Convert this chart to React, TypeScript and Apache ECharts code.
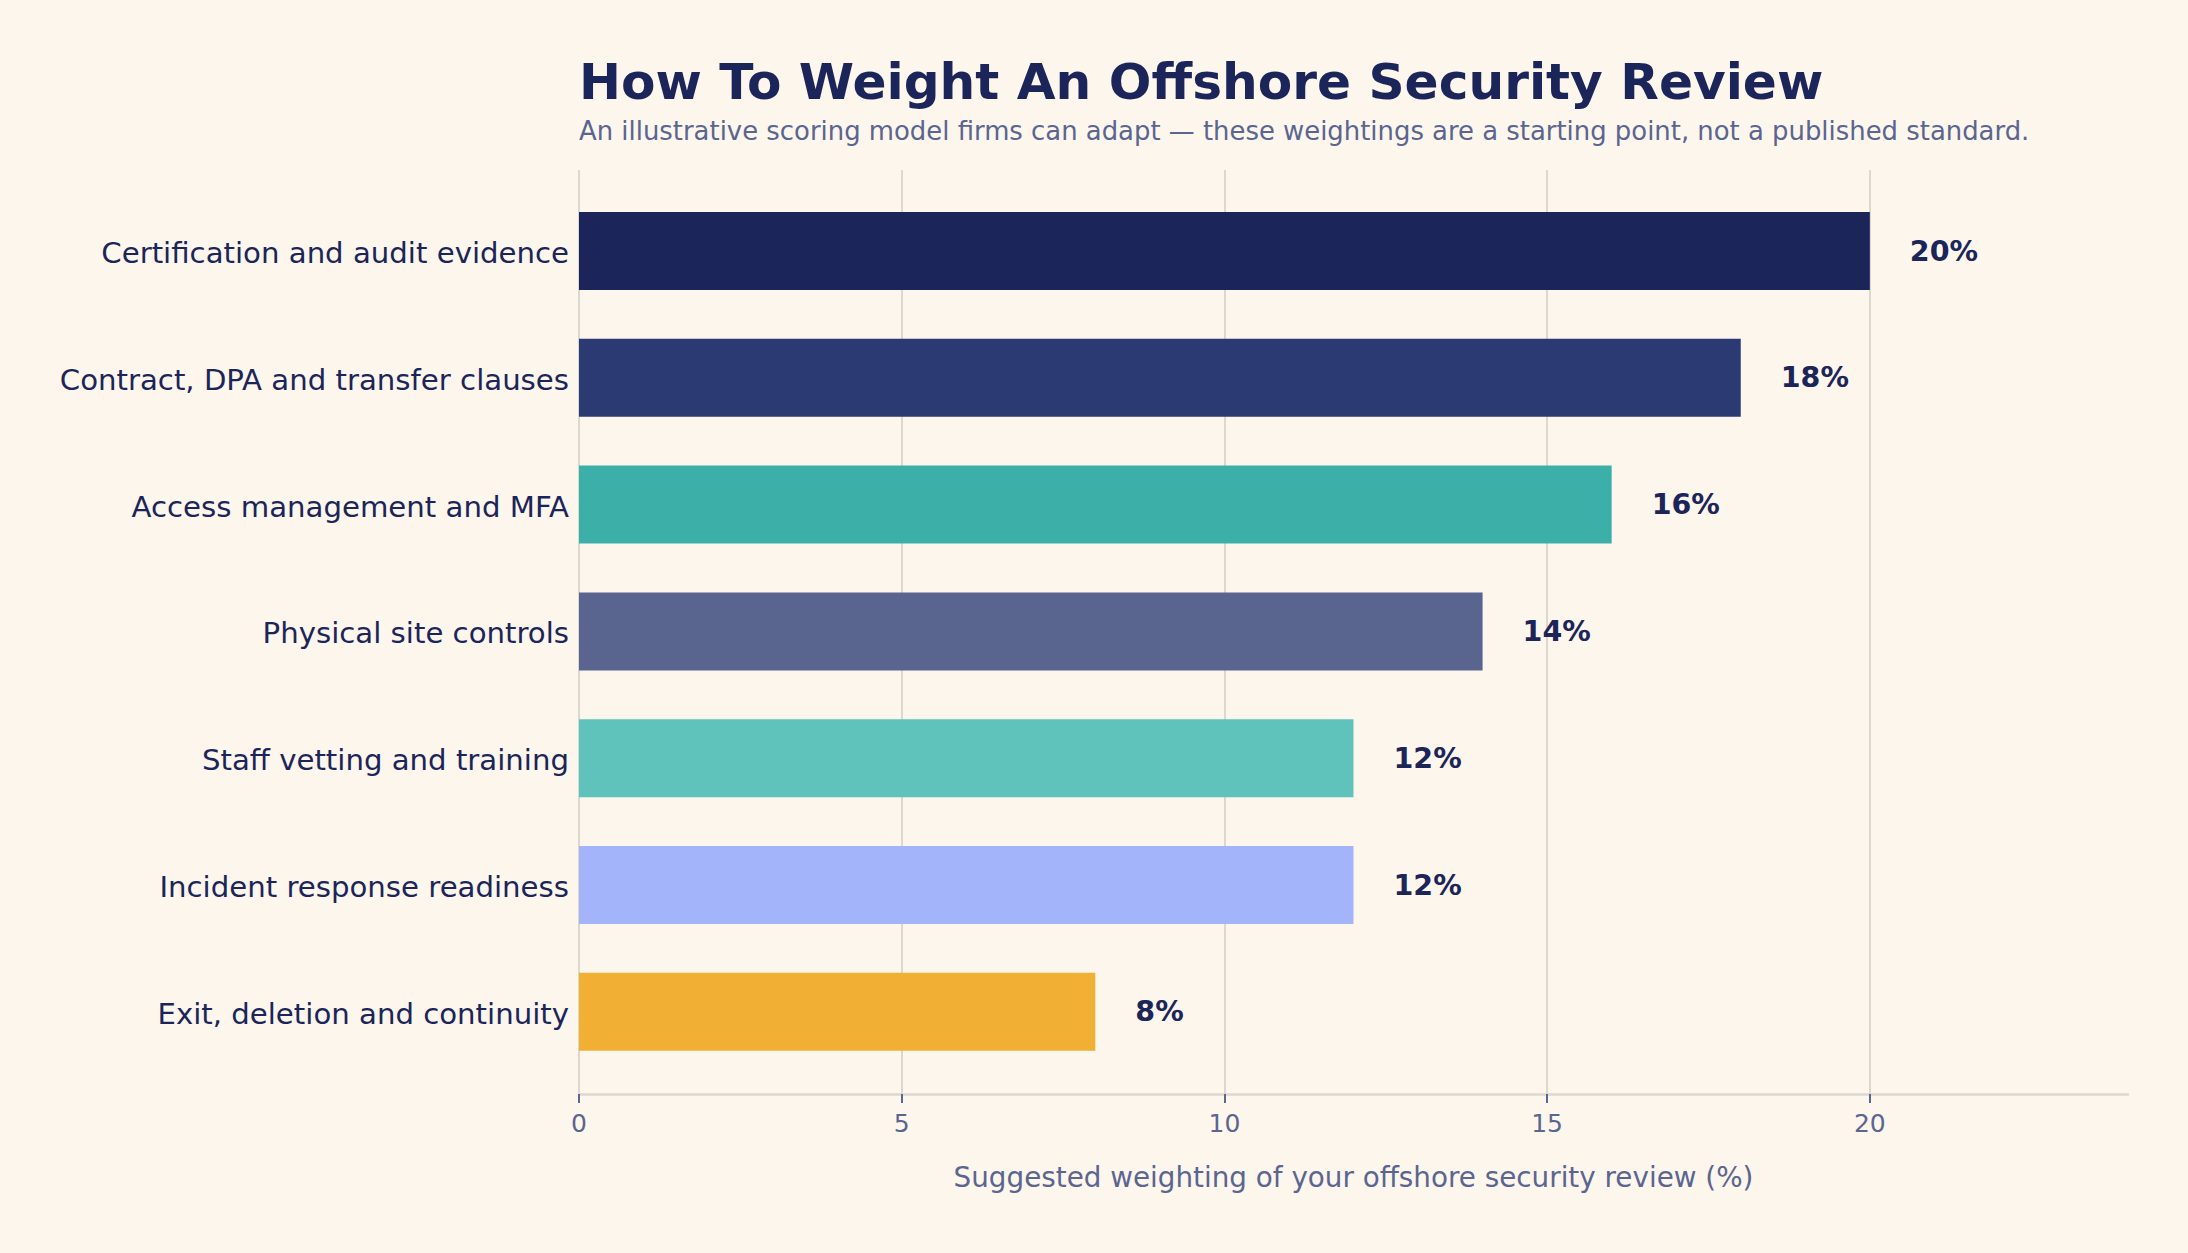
import { useEffect, useRef } from 'react';
import * as echarts from 'echarts';

const categories = [
  'Certification and audit evidence',
  'Contract, DPA and transfer clauses',
  'Access management and MFA',
  'Physical site controls',
  'Staff vetting and training',
  'Incident response readiness',
  'Exit, deletion and continuity',
];
const weights = [20, 18, 16, 14, 12, 12, 8];
const barColors = ['#1b2559', '#2b3a73', '#3cafa9', '#5a658f', '#5fc3bc', '#a3b4fa', '#f1b033'];
const tickValues = [0, 5, 10, 15, 20];

const NAVY = '#1b2559';
const SLATE = '#5a6590';
const GRID = '#dcd8ce';
const FONT = '"DejaVu Sans", sans-serif';

export default function App() {
  const chartRef = useRef<HTMLDivElement>(null);

  useEffect(() => {
    if (!chartRef.current) return;
    const chart = echarts.init(chartRef.current, null, { renderer: 'svg' });

    // plot frame: 579..2128 x, 170..1094 y ; bars sit in a slightly inset band grid
    const option: echarts.EChartsOption = {
      backgroundColor: '#fdf6ec',
      animation: false,
      textStyle: { fontFamily: FONT },
      graphic: [
        {
          type: 'text',
          left: 579,
          top: 56,
          style: {
            text: 'How To Weight An Offshore Security Review',
            fontFamily: FONT,
            fontSize: 50.2,
            fontWeight: 'bold',
            fill: NAVY,
          },
        },
        {
          type: 'text',
          left: 579,
          top: 118,
          style: {
            text: 'An illustrative scoring model firms can adapt \u2014 these weightings are a starting point, not a published standard.',
            fontFamily: FONT,
            fontSize: 25.9,
            fill: SLATE,
          },
        },
      ],
      grid: [
        { left: 579, top: 170, width: 1549, height: 924 },
        { left: 579, top: 187.6, width: 1549, height: 887.6 },
      ],
      xAxis: [
        {
          type: 'value',
          gridIndex: 0,
          min: 0,
          max: 24,
          interval: 5,
          name: 'Suggested weighting of your offshore security review (%)',
          nameLocation: 'middle',
          nameGap: 69,
          nameTextStyle: { fontFamily: FONT, fontSize: 27.8, color: SLATE },
          axisLine: { show: true, lineStyle: { color: GRID, width: 2.5 } },
          axisTick: { show: true, length: 9, customValues: tickValues, lineStyle: { color: SLATE, width: 2 } },
          axisLabel: { customValues: tickValues, margin: 17, fontFamily: FONT, fontSize: 25, color: SLATE },
          splitLine: { show: true, lineStyle: { color: GRID, width: 2 } },
        },
        {
          type: 'value',
          gridIndex: 1,
          min: 0,
          max: 24,
          show: false,
        },
      ],
      yAxis: [
        { type: 'value', gridIndex: 0, show: false },
        {
          type: 'category',
          gridIndex: 1,
          data: categories,
          inverse: true,
          axisLine: { show: false },
          axisTick: { show: false },
          splitLine: { show: false },
          axisLabel: {
            margin: 10,
            formatter: (v: string) => `{c|${v}}`,
            rich: {
              c: { padding: [4, 0, 0, 0], fontFamily: FONT, fontSize: 29.2, color: NAVY },
            },
          },
        },
      ],
      series: [
        {
          type: 'bar',
          xAxisIndex: 1,
          yAxisIndex: 1,
          barWidth: 78,
          data: weights.map((v, i) => ({ value: v, itemStyle: { color: barColors[i] } })),
          label: {
            show: true,
            position: 'right',
            distance: 40,
            formatter: '{c}%',
            fontFamily: FONT,
            fontSize: 28.5,
            fontWeight: 'bold',
            color: NAVY,
          },
        },
      ],
    };

    chart.setOption(option);
    return () => chart.dispose();
  }, []);

  return (
    <div
      ref={chartRef}
      style={{ position: 'fixed', left: 0, top: 0, width: 2188, height: 1253 }}
    />
  );
}
